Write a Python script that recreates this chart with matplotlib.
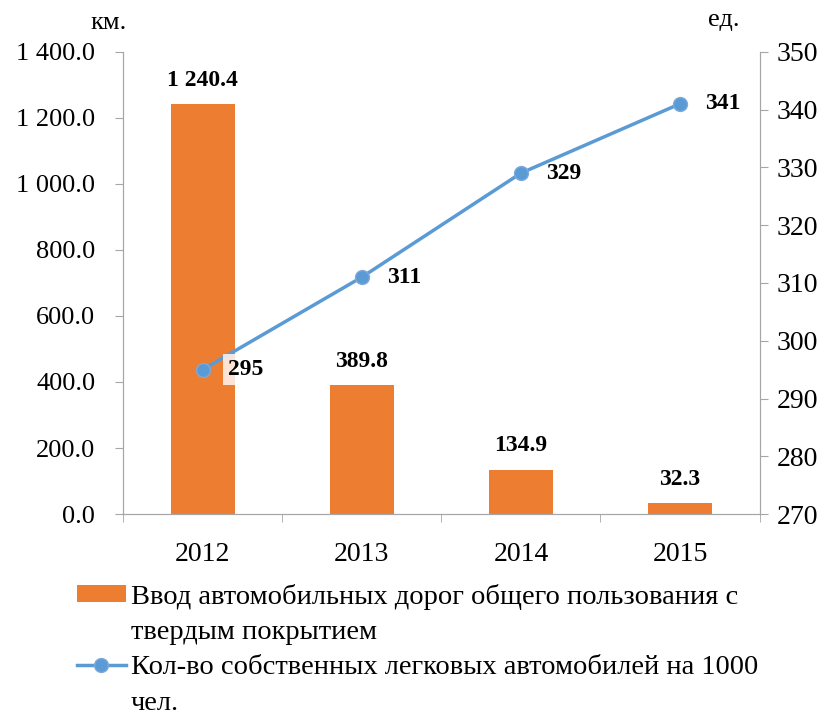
import matplotlib.pyplot as plt
from matplotlib.ticker import FuncFormatter
from matplotlib.patches import Patch
from matplotlib.lines import Line2D

years = ['2012', '2013', '2014', '2015']
roads_km = [1240.4, 389.8, 134.9, 32.3]
cars_per_1000 = [295, 311, 329, 341]

bar_label = ['Ввод автомобильных дорог общего пользования с', 'твердым покрытием']
line_label = ['Кол-во собственных легковых автомобилей на 1000', 'чел.']

orange = '#ED7D31'
blue = '#5B9BD5'
grey = '#A6A6A6'

plt.rcParams['font.family'] = 'Liberation Serif'


def fmt_num(v, pos=None):
    s = f'{v:,.1f}'
    return s.replace(',', ' ')


fig = plt.figure(figsize=(8.32, 7.19), dpi=100)
ax = fig.add_axes([0.148, 0.285, 0.765, 0.643])
ax2 = ax.twinx()

x = list(range(len(years)))
bars = ax.bar(x, roads_km, width=0.4, color=orange, zorder=2)
ax.set_xlim(-0.5, 3.5)
ax.set_ylim(0, 1400)
ax.set_yticks(range(0, 1401, 200))
ax.yaxis.set_major_formatter(FuncFormatter(fmt_num))
ax.set_xticks(x)
ax.set_xticklabels(years)
ax.set_xticks([-0.5, 0.5, 1.5, 2.5, 3.5], minor=True)
ax.tick_params(axis='x', which='major', length=0, labelsize=20, pad=20)
ax.tick_params(axis='x', which='minor', length=6, color=grey, direction='out')
ax.tick_params(axis='y', labelsize=19, length=6, color=grey, pad=14)

for b, v in zip(bars, roads_km):
    ax.text(b.get_x() + b.get_width() / 2, v + 40, fmt_num(v),
            ha='center', va='bottom', fontsize=17, fontweight='bold')

line, = ax2.plot(x, cars_per_1000, color=blue, lw=2.5, marker='o', ms=10,
                 mfc=blue, mec='#7FA9D8', mew=1, zorder=3)
ax2.set_ylim(270, 350)
ax2.set_yticks(range(270, 351, 10))
ax2.tick_params(axis='y', labelsize=20, length=6, color=grey, pad=6)

for i, v in enumerate(cars_per_1000):
    bbox = dict(boxstyle='square,pad=0.2', fc='white', ec='none', alpha=0.8) if i == 0 else None
    ax2.text(i + 0.16, v, str(v), ha='left', va='center', fontsize=17,
             fontweight='bold', bbox=bbox, zorder=4)

for a in (ax, ax2):
    a.spines['top'].set_visible(False)
    for side in ('left', 'right', 'bottom'):
        a.spines[side].set_color(grey)

fig.text(0.13, 0.968, 'км.', fontsize=19, ha='center', va='center')
fig.text(0.87, 0.972, 'ед.', fontsize=19, ha='center', va='center')

blank = Patch(facecolor='none', edgecolor='none')
bar_handle = Patch(facecolor=orange)
line_handle = Line2D([], [], color=blue, lw=2.5, marker='o', ms=10,
                     mfc=blue, mec='#7FA9D8', mew=1)
fig.legend([bar_handle, blank, line_handle, blank],
           [bar_label[0], bar_label[1], line_label[0], line_label[1]],
           loc='upper left', bbox_to_anchor=(0.092, 0.188), frameon=False,
           fontsize=20.5, handlelength=1.75, handleheight=0.55, handletextpad=0.15,
           labelspacing=0.36, borderaxespad=0, borderpad=0)

fig.savefig('out.png', dpi=100)
